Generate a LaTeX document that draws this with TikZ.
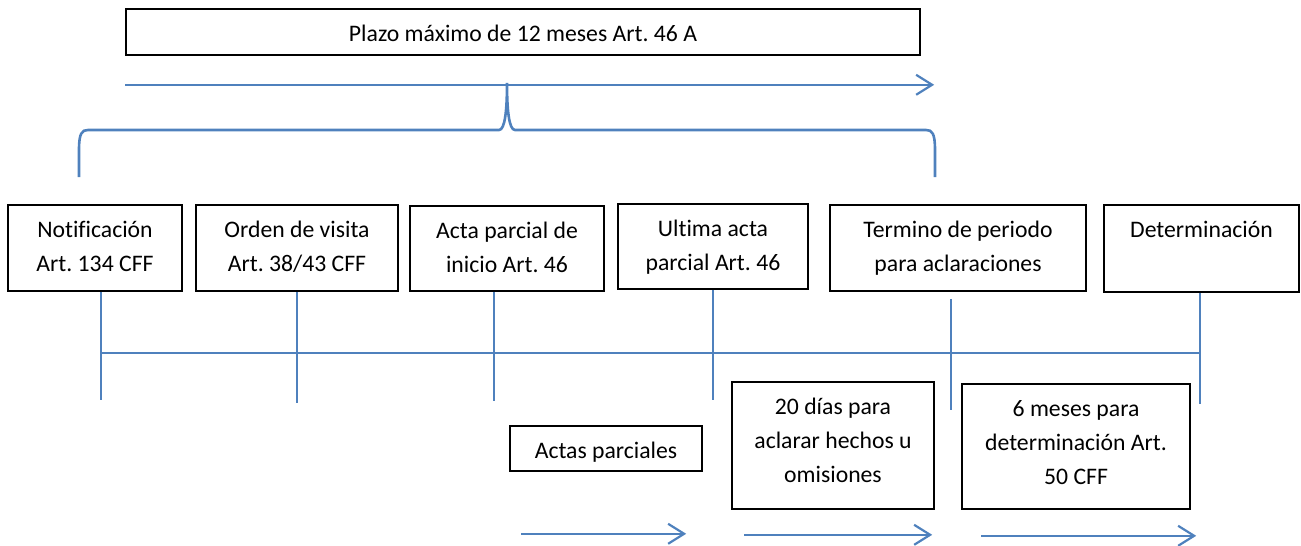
\documentclass[tikz,border=0pt]{standalone}
\usepackage{fontspec}
\setmainfont{Carlito}[Ligatures={NoCommon}]
\usetikzlibrary{arrows.meta}
\definecolor{lnblue}{RGB}{79,129,189}
\frenchspacing
\newcommand{\tp}{\rule{0pt}{11.9pt}}

\begin{document}
\begin{tikzpicture}[x=0.5pt,y=-0.5pt,>={Straight Barb[length=8pt,width=10pt]},
    every node/.style={font=\fontsize{11.85}{17}\selectfont},
    bx/.style={rectangle,draw=black,line width=0.8pt,inner sep=0pt},
    lb/.style={anchor=north,align=center,inner sep=0pt,yshift=-4.6pt},
    ln/.style={draw=lnblue,line width=1.3pt},
    ar/.style={ln,line width=1.1pt,->}]
        \useasboundingbox (0,0) rectangle (1301,546);
        % plazo
        \node[bx,minimum width=397pt,minimum height=23pt] (pl) at (523,32) {};
        \node[lb] (plt) at (pl.north) {\tp Plazo máximo de 12 meses Art. 46 A};
        \draw[ar] (pl.south west) ++(0,29) -- ++(809,0);
        \draw[ln] (79,177) -- (79,150) .. controls (79,133) and (82,130) .. (88,130) -- (499,130)
            .. controls (505,130) and (507,110) .. (507,83) .. controls (507,110) and (509,130) .. (515,130)
            -- (926,130) .. controls (932,130) and (935,133) .. (935,150) -- (935,177);
        % etapas
        \node[bx,minimum width=87pt,minimum height=43pt] (n1) at (95,248) {};
        \node[lb] (n1t) at (n1.north) {\tp Notificación\\Art. 134 CFF};
        \node[bx,minimum width=101pt,minimum height=43pt] (n2) at (297,248) {};
        \node[lb] (n2t) at (n2.north) {\tp Orden de visita\\Art. 38/43 CFF};
        \node[bx,minimum width=97pt,minimum height=42.5pt] (n3) at (507,248.5) {};
        \node[lb] (n3t) at (n3.north) {\tp Acta parcial de\\inicio Art. 46};
        \node[bx,minimum width=95pt,minimum height=42.5pt] (n4) at (713,246.5) {};
        \node[lb] (n4t) at (n4.north) {\tp Ultima acta\\parcial Art. 46};
        \node[bx,minimum width=128pt,minimum height=43pt] (n5) at (958,248) {};
        \node[lb] (n5t) at (n5.north) {\tp Termino de periodo\\para aclaraciones};
        \node[bx,minimum width=97.5pt,minimum height=43.5pt] (n6) at (1201.5,248.5) {};
        \node[lb] (n6t) at (n6.north) {\tp Determinación};
        % linea de tiempo
        \coordinate (t0) at (101,353);
        \coordinate (t1) at (1200,353);
        \draw[ln] (t0) -- (t1);
        \draw[ln] ([xshift=3pt]n1.south) -- ++(0,108);
        \draw[ln] (n2.south) -- ++(0,111);
        \draw[ln] ([xshift=-6.5pt]n3.south) -- ++(0,109);
        \draw[ln] (n4.south) -- ++(0,110);
        \draw[ln] ([xshift=-3.5pt,yshift=-3.5pt]n5.south) -- ++(0,111);
        \draw[ln] ([xshift=-0.75pt]n6.south) -- ++(0,111);
        % plazos
        \node[bx,minimum width=96pt,minimum height=22.5pt] (ap) at (606,448.5) {};
        \node[lb] (apt) at (ap.north) {\tp Actas parciales};
        \node[bx,minimum width=101pt,minimum height=63.5pt] (dd) at (833,445.5) {};
        \node[lb] (ddt) at (dd.north) {\tp 20 días para\\aclarar hechos u\\omisiones};
        \node[bx,minimum width=114pt,minimum height=62.5pt] (sm) at (1076,446.5) {};
        \node[lb] (smt) at (sm.north) {\tp 6 meses para\\determinación Art.\\50 CFF};
        \draw[ar] (ap.south west) ++(12,62) -- ++(165,0);
        \draw[ar] (dd.south west) ++(13,25) -- ++(188,0);
        \draw[ar] (sm.south west) ++(20,26) -- ++(215,0);
\end{tikzpicture}
\end{document}
